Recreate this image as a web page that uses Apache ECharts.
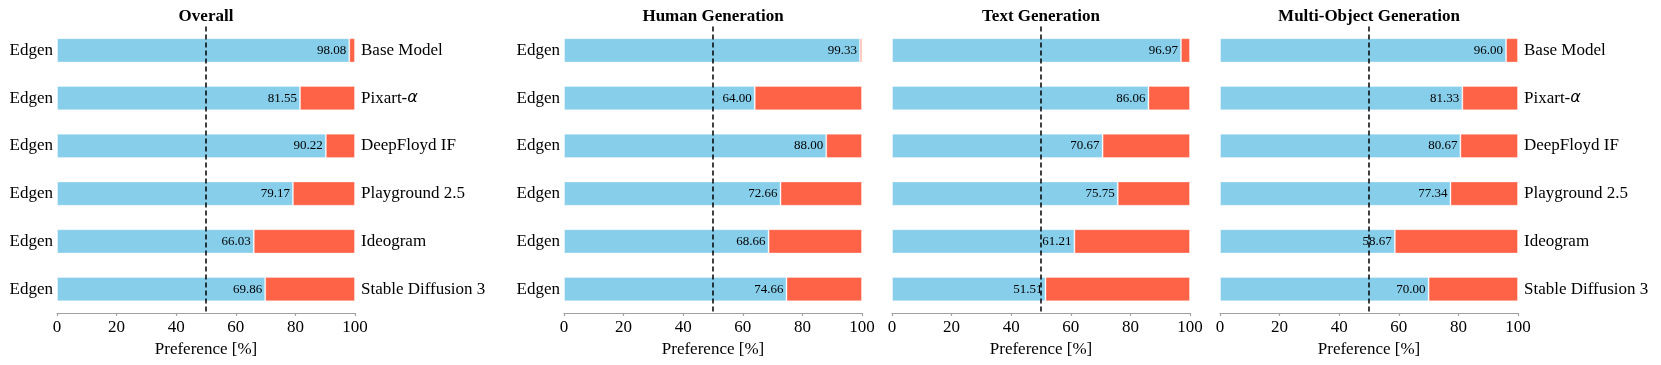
<!DOCTYPE html>
<html>
<head>
<meta charset="utf-8">
<script src="https://cdn.jsdelivr.net/npm/echarts@6/dist/echarts.min.js"></script>
<style>
  html, body { margin: 0; padding: 0; background: #fff; }
  #chart { width: 1661px; height: 365px; }
</style>
</head>
<body>
<div id="chart"></div>
<script>
var models = ['Base Model', 'Pixart-α', 'DeepFloyd IF', 'Playground 2.5', 'Ideogram', 'Stable Diffusion 3'];
var ours = ['Edgen', 'Edgen', 'Edgen', 'Edgen', 'Edgen', 'Edgen'];
var panelTitles = ['Overall', 'Human Generation', 'Text Generation', 'Multi-Object Generation'];
var xTicks = [0, 20, 40, 60, 80, 100];

var overall = [98.08, 81.55, 90.22, 79.17, 66.03, 69.86];
var human = [99.33, 64.00, 88.00, 72.66, 68.66, 74.66];
var text = [96.97, 86.06, 70.67, 75.75, 61.21, 51.51];
var multiObject = [96.00, 81.33, 80.67, 77.34, 58.67, 70.00];

var panels = [overall, human, text, multiObject];
var gridLefts = [57, 564, 892, 1220];
var gridWidth = 298;
var showLeft = [true, true, false, false];
var showRight = [true, false, false, true];

var FONT = "'Liberation Serif', 'DejaVu Serif', serif";
var BLUE = '#87CEEB';
var RED = '#FF6347';

var grids = [], xAxes = [], yAxes = [], series = [], titles = [];

for (var i = 0; i < panels.length; i++) {
	grids.push({ left: gridLefts[i], width: gridWidth, top: 26.5, height: 286.5 });

	titles.push({
		text: panelTitles[i],
		left: gridLefts[i] + gridWidth / 2,
		top: 8,
		padding: 0,
		textAlign: 'center',
		textStyle: { fontFamily: FONT, fontSize: 17, fontWeight: 'bold', color: '#000' }
	});

	xAxes.push({
		type: 'value', gridIndex: i, min: 0, max: 100, interval: 20,
		name: 'Preference [%]', nameLocation: 'middle', nameGap: 27,
		nameTextStyle: { fontFamily: FONT, fontSize: 17, color: '#000' },
		axisLine: { show: true, lineStyle: { color: '#a0a0a0', width: 1.2 } },
		axisTick: { show: true, length: 3, lineStyle: { color: '#a0a0a0', width: 1.2 } },
		axisLabel: {
			fontFamily: FONT, fontSize: 17, color: '#000', margin: 6,
			formatter: function(v) { return xTicks.indexOf(v) >= 0 ? String(v) : ''; }
		},
		splitLine: { show: false }
	});

	yAxes.push({
		type: 'category', gridIndex: i, data: ours, inverse: true, position: 'left',
		axisLine: { show: false }, axisTick: { show: false },
		axisLabel: { show: showLeft[i], fontFamily: FONT, fontSize: 17, color: '#000', margin: 4 }
	});
	yAxes.push({
		type: 'category', gridIndex: i, data: models, inverse: true, position: 'right',
		axisLine: { show: false }, axisTick: { show: false },
		axisLabel: {
			show: showRight[i], fontFamily: FONT, fontSize: 17, color: '#000', margin: 6,
			formatter: function(v) {
				if (v.indexOf('α') >= 0) return v.replace('α', '') + '{a|α}';
				return v;
			},
			rich: { a: { fontFamily: 'DejaVu Sans', fontStyle: 'italic', fontSize: 16, color: '#000' } }
		}
	});

	var vals = panels[i];
	var rest = vals.map(function(v) { return +(100 - v).toFixed(2); });

	series.push({
		type: 'bar', xAxisIndex: i, yAxisIndex: i * 2, stack: 'p' + i,
		data: vals, barWidth: '51%',
		itemStyle: { color: BLUE, borderColor: 'rgba(255,255,255,0.35)', borderWidth: 1 },
		label: {
			show: true, position: 'insideRight', distance: 3,
			fontFamily: FONT, fontSize: 13, color: '#000',
			formatter: function(p) { return p.value.toFixed(2); }
		}
	});
	series.push({
		type: 'bar', xAxisIndex: i, yAxisIndex: i * 2, stack: 'p' + i,
		data: rest, barWidth: '51%',
		itemStyle: { color: RED, borderColor: 'rgba(255,255,255,0.35)', borderWidth: 1 },
		markLine: {
			silent: true, symbol: 'none',
			label: { show: false },
			lineStyle: { color: '#000', type: [5, 3], width: 1.5 },
			data: [{ xAxis: 50 }]
		}
	});
}

var chart = echarts.init(document.getElementById('chart'), null, { renderer: 'canvas' });
chart.setOption({
	animation: false,
	backgroundColor: '#fff',
	title: titles,
	grid: grids,
	xAxis: xAxes,
	yAxis: yAxes,
	series: series
});
</script>
</body>
</html>
